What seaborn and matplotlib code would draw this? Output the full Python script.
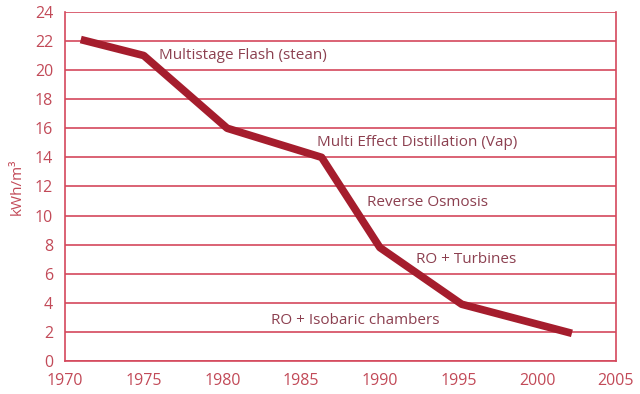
import pandas as pd
import seaborn as sns
import matplotlib.pyplot as plt

years = [1971, 1975, 1980.3, 1986.3, 1990, 1995.2, 2002.2]
kwh = [22.1, 21.0, 16.0, 14.0, 7.8, 3.9, 1.9]

labels = ["Multistage Flash (stean)", "Multi Effect Distillation (Vap)",
          "Reverse Osmosis", "RO + Turbines", "RO + Isobaric chambers"]
label_x = [1976.0, 1986.0, 1989.2, 1992.3, 1983.1]
label_y = [21.0, 15.0, 10.9, 7.0, 2.8]

grid_c = "#d4485c"
line_c = "#a51d2d"
text_c = "#8c4050"
tick_c = "#c24a58"

sns.set_style("white")
plt.rcParams["font.family"] = ["Open Sans", "DejaVu Sans"]

df = pd.DataFrame({"year": years, "kwh": kwh})

fig = plt.figure(figsize=(6.4, 3.94), dpi=100)
ax = fig.add_axes([0.1016, 0.0838, 0.8609, 0.886])
sns.lineplot(data=df, x="year", y="kwh", ax=ax, color=line_c, linewidth=5.5,
             solid_joinstyle="round", solid_capstyle="butt")

ax.set_xlim(1970, 2005)
ax.set_ylim(0, 24)
ax.set_xticks(range(1970, 2006, 5))
ax.set_yticks(range(0, 25, 2))
ax.yaxis.grid(True, color=grid_c, linewidth=1.2)
ax.set_axisbelow(True)
for s in ["left", "bottom", "right"]:
    ax.spines[s].set_color(grid_c)
    ax.spines[s].set_linewidth(1.2)
ax.spines["top"].set_visible(False)
ax.tick_params(axis="both", colors=grid_c, labelcolor=tick_c, labelsize=11.5,
               length=5, width=1.2, direction="out")
ax.set_xlabel("")
ax.set_ylabel("kWh/m³", color=tick_c, fontsize=11, labelpad=7)

for t, x, y in zip(labels, label_x, label_y):
    ax.text(x, y, t, color=text_c, fontsize=11, va="center", ha="left")

fig.savefig("out.png", dpi=100)
